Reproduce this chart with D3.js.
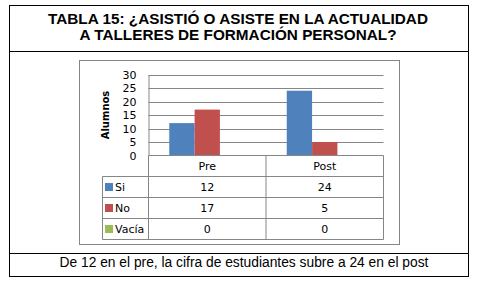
<!DOCTYPE html>
<html>
<head>
<meta charset="utf-8">
<script src="https://cdn.jsdelivr.net/npm/d3@7"></script>
<style>
  body { margin: 0; background: #fff; }
  svg { display: block; }
</style>
</head>
<body>
<div id="chart"></div>
<script>
// Data
const categories = ["Pre", "Post"];
const seriesNames = ["Si", "No", "Vacía"];
const siValues = [12, 24];
const noValues = [17, 5];
const vaciaValues = [0, 0];
const yTicks = [0, 5, 10, 15, 20, 25, 30];
const titleLines = ["TABLA 15: ¿ASISTIÓ O ASISTE EN LA ACTUALIDAD", "A TALLERES DE FORMACIÓN PERSONAL?"];
const caption = "De 12 en el pre, la cifra de estudiantes subre a 24 en el post";

const colors = ["#4f81bd", "#c0504d", "#9bbb59"];
const allValues = [siValues, noValues, vaciaValues];

const W = 482, H = 288;
const chartFont = "'DejaVu Sans', Verdana, sans-serif";

const svg = d3.select("#chart").append("svg")
    .attr("width", W)
    .attr("height", H);

// Outer table frame
svg.append("rect")
    .attr("x", 9.5).attr("y", 5.5)
    .attr("width", 459).attr("height", 271)
    .attr("fill", "none").attr("stroke", "#000").attr("stroke-width", 1);
svg.append("line")
    .attr("x1", 9).attr("x2", 469).attr("y1", 51.5).attr("y2", 51.5)
    .attr("stroke", "#000");
svg.append("line")
    .attr("x1", 9).attr("x2", 469).attr("y1", 253.5).attr("y2", 253.5)
    .attr("stroke", "#000");

// Title
svg.selectAll(".title")
    .data(titleLines)
    .enter().append("text")
    .attr("class", "title")
    .attr("x", 238)
    .attr("y", (d, i) => 23.5 + i * 16.5)
    .attr("text-anchor", "middle")
    .style("font-family", "'Liberation Sans', Arial, sans-serif")
    .style("font-weight", "bold")
    .style("font-size", "15.3px")
    .text(d => d);

// Caption
svg.append("text")
    .attr("x", 244)
    .attr("y", 266.5)
    .attr("text-anchor", "middle")
    .style("font-family", "'Liberation Sans', Arial, sans-serif")
    .style("font-size", "13.8px")
    .text(caption);

// Chart frame (gray)
svg.append("rect")
    .attr("x", 79.5).attr("y", 60.5)
    .attr("width", 320).attr("height", 184)
    .attr("fill", "#fff").attr("stroke", "#868686");

// Plot area
const plotLeft = 148.5, plotRight = 383.5, plotTop = 74.5, plotBottom = 155.5;

const x = d3.scaleBand()
    .domain(categories)
    .range([plotLeft, plotRight]);

const y = d3.scaleLinear()
    .domain([0, 30])
    .range([plotBottom, plotTop]);

const xs = d3.scaleBand()
    .domain(seriesNames)
    .range([0, x.bandwidth()])
    .paddingInner(0)
    .paddingOuter(0.82);

// Gridlines
svg.append("g")
    .selectAll("line")
    .data(yTicks.filter(t => t > 0))
    .enter().append("line")
    .attr("x1", plotLeft).attr("x2", plotRight)
    .attr("y1", d => Math.round(y(d)) + 0.5)
    .attr("y2", d => Math.round(y(d)) + 0.5)
    .attr("stroke", "#868686");

// Y axis
const yAxis = svg.append("g")
    .attr("transform", `translate(${plotLeft},0)`)
    .call(d3.axisLeft(y).tickValues(yTicks).tickSize(0).tickPadding(12));
yAxis.select(".domain").attr("stroke", "#868686");
yAxis.selectAll("text")
    .style("font-family", chartFont)
    .style("font-size", "11px")
    .attr("fill", "#000");

// Y label
svg.append("text")
    .attr("transform", `translate(109,115) rotate(-90)`)
    .attr("text-anchor", "middle")
    .style("font-family", chartFont)
    .style("font-weight", "bold")
    .style("font-size", "10px")
    .text("Alumnos");

// Bars
seriesNames.forEach((s, si) => {
    svg.append("g")
        .selectAll("rect")
        .data(categories.map((c, ci) => ({ c: c, v: allValues[si][ci] })))
        .enter().append("rect")
        .attr("x", d => x(d.c) + xs(s))
        .attr("y", d => y(d.v))
        .attr("width", xs.bandwidth())
        .attr("height", d => y(0) - y(d.v))
        .attr("fill", colors[si]);
});

// Data table
const tableLeft = 102.5;
const rowEdges = [155.5, 176.5, 197.5, 218.5, 239.5];
const gridColor = "#868686";
const table = svg.append("g");

// horizontal lines
rowEdges.forEach((ry, i) => {
    table.append("line")
        .attr("x1", i === 0 ? plotLeft : tableLeft)
        .attr("x2", plotRight)
        .attr("y1", ry).attr("y2", ry)
        .attr("stroke", gridColor);
});
// vertical lines
const colEdges = [plotLeft].concat(categories.map(c => x(c) + x.bandwidth()));
colEdges.forEach(cx => {
    table.append("line")
        .attr("x1", cx).attr("x2", cx)
        .attr("y1", rowEdges[0]).attr("y2", rowEdges[4])
        .attr("stroke", gridColor);
});
table.append("line")
    .attr("x1", tableLeft).attr("x2", tableLeft)
    .attr("y1", rowEdges[1]).attr("y2", rowEdges[4])
    .attr("stroke", gridColor);

// header labels
table.selectAll(".hdr")
    .data(categories)
    .enter().append("text")
    .attr("x", d => x(d) + x.bandwidth() / 2)
    .attr("y", (rowEdges[0] + rowEdges[1]) / 2 + 4)
    .attr("text-anchor", "middle")
    .style("font-family", chartFont)
    .style("font-size", "11px")
    .text(d => d);

// rows
seriesNames.forEach((s, si) => {
    const yMid = (rowEdges[si + 1] + rowEdges[si + 2]) / 2;
    table.append("rect")
        .attr("x", 105).attr("y", yMid - 4)
        .attr("width", 8).attr("height", 8)
        .attr("fill", colors[si]);
    table.append("text")
        .attr("x", 115)
        .attr("y", yMid + 4)
        .style("font-family", chartFont)
        .style("font-size", "11px")
        .text(s);
    categories.forEach((c, ci) => {
        table.append("text")
            .attr("x", x(c) + x.bandwidth() / 2)
            .attr("y", yMid + 4)
            .attr("text-anchor", "middle")
            .style("font-family", chartFont)
            .style("font-size", "11px")
            .text(allValues[si][ci]);
    });
});
</script>
</body>
</html>
